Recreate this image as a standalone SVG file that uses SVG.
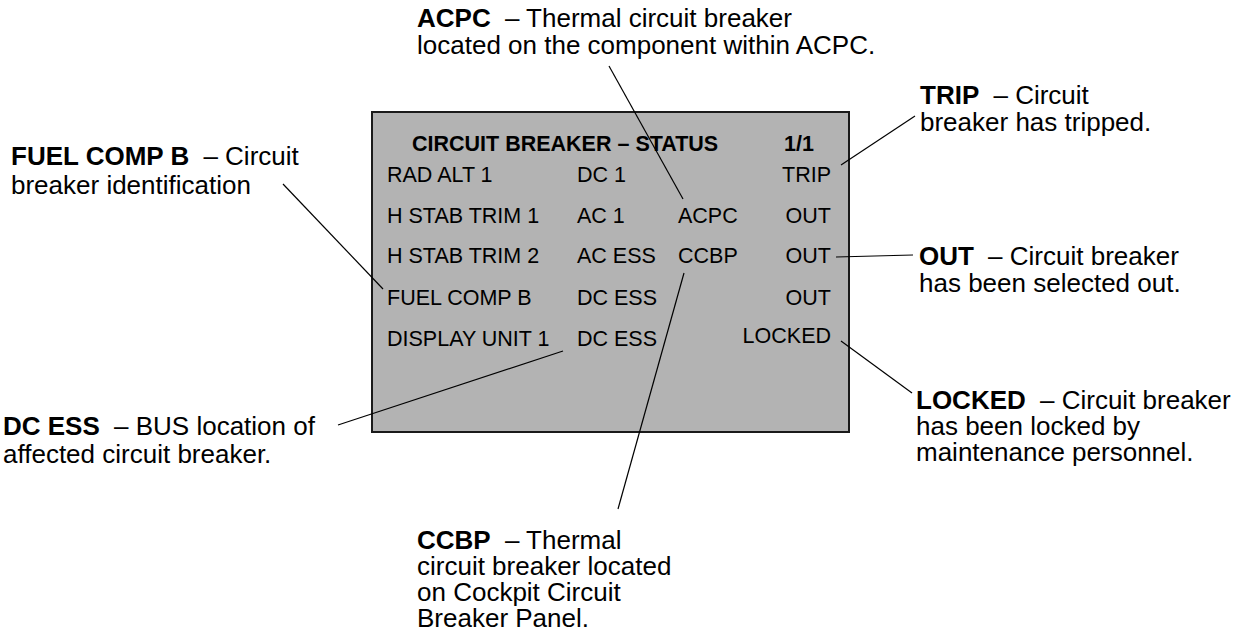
<svg xmlns="http://www.w3.org/2000/svg" width="1247" height="631" viewBox="0 0 1247 631">
<style>
text{font-family:"Liberation Sans",Arial,sans-serif;fill:#000}
.p{font-size:21.5px}
.pb{font-size:21.5px;font-weight:bold}
.l{font-size:26px}
.b{font-weight:bold}
.r{text-anchor:end}
.c{stroke:#000;stroke-width:1.2;fill:none}
</style>
<rect width="1247" height="631" fill="#fff"/>
<g id="panel">
<rect x="372" y="112" width="477" height="320" fill="#b3b3b3" stroke="#1a1a1a" stroke-width="2"/>
<text class="pb" x="412" y="151">CIRCUIT BREAKER – STATUS</text>
<text class="pb" x="784" y="151">1/1</text>
<text class="p" x="387" y="182">RAD ALT 1</text>
<text class="p" x="577" y="182">DC 1</text>
<text class="p r" x="831" y="182">TRIP</text>
<text class="p" x="387" y="223">H STAB TRIM 1</text>
<text class="p" x="577" y="223">AC 1</text>
<text class="p" x="678" y="223">ACPC</text>
<text class="p r" x="831" y="223">OUT</text>
<text class="p" x="387" y="263">H STAB TRIM 2</text>
<text class="p" x="577" y="263">AC ESS</text>
<text class="p" x="678" y="263">CCBP</text>
<text class="p r" x="831" y="263">OUT</text>
<text class="p" x="387" y="305">FUEL COMP B</text>
<text class="p" x="577" y="305">DC ESS</text>
<text class="p r" x="831" y="305">OUT</text>
<text class="p" x="387" y="346">DISPLAY UNIT 1</text>
<text class="p" x="577" y="346">DC ESS</text>
<text class="p r" x="831" y="343">LOCKED</text>
</g>
<g id="connectors">
<line class="c" x1="609" y1="66" x2="683" y2="199"/>
<line class="c" x1="684" y1="273" x2="618" y2="509"/>
<line class="c" x1="283" y1="184" x2="383" y2="289"/>
<line class="c" x1="563" y1="351" x2="338" y2="425"/>
<line class="c" x1="841" y1="165" x2="915" y2="116"/>
<line class="c" x1="836" y1="257" x2="913" y2="255"/>
<line class="c" x1="841" y1="341" x2="912" y2="393"/>
</g>
<g id="label-acpc">
<text class="l" x="417" y="27"><tspan class="b">ACPC</tspan><tspan dx="7"> – Thermal circuit breaker</tspan></text>
<text class="l" x="417" y="54">located on the component within ACPC.</text>
</g>
<g id="label-fuel">
<text class="l" x="11" y="165"><tspan class="b">FUEL COMP B</tspan><tspan dx="7"> – Circuit</tspan></text>
<text class="l" x="11" y="194">breaker identification</text>
</g>
<g id="label-dcess">
<text class="l" x="3" y="435"><tspan class="b">DC ESS</tspan><tspan dx="7"> – BUS location of</tspan></text>
<text class="l" x="3" y="463">affected circuit breaker.</text>
</g>
<g id="label-trip">
<text class="l" x="920" y="104"><tspan class="b">TRIP</tspan><tspan dx="7"> – Circuit</tspan></text>
<text class="l" x="920" y="131">breaker has tripped.</text>
</g>
<g id="label-out">
<text class="l" x="919" y="265"><tspan class="b">OUT</tspan><tspan dx="7"> – Circuit breaker</tspan></text>
<text class="l" x="919" y="292">has been selected out.</text>
</g>
<g id="label-locked">
<text class="l" x="916" y="409"><tspan class="b">LOCKED</tspan><tspan dx="7"> – Circuit breaker</tspan></text>
<text class="l" x="916" y="435">has been locked by</text>
<text class="l" x="916" y="461">maintenance personnel.</text>
</g>
<g id="label-ccbp">
<text class="l" x="417" y="549"><tspan class="b">CCBP</tspan><tspan dx="7"> – Thermal</tspan></text>
<text class="l" x="417" y="575">circuit breaker located</text>
<text class="l" x="417" y="601">on Cockpit Circuit</text>
<text class="l" x="417" y="627">Breaker Panel.</text>
</g>
</svg>
